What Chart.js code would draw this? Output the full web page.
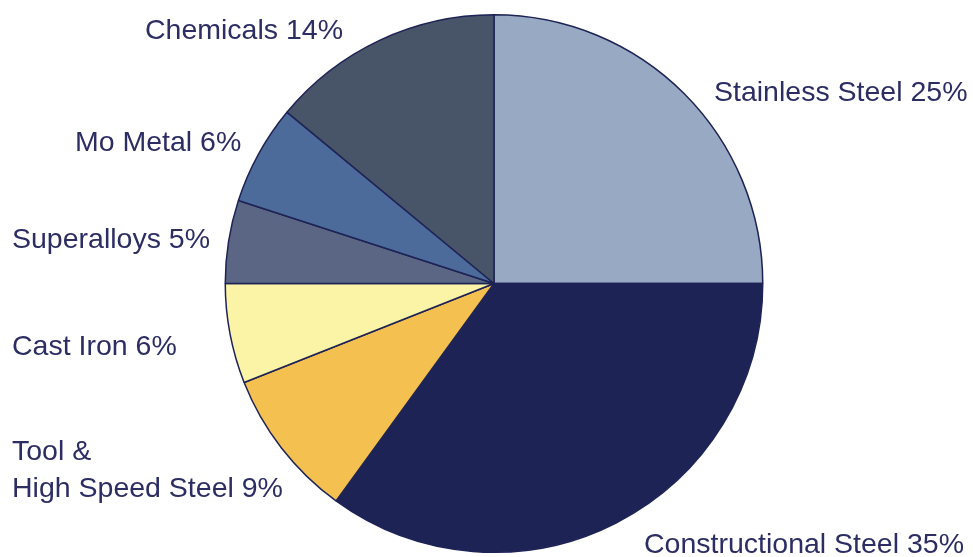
<!DOCTYPE html>
<html>
<head>
<meta charset="utf-8">
<title>Molybdenum end uses</title>
<script src="https://cdn.jsdelivr.net/npm/chart.js@4.4.1/dist/chart.umd.min.js"></script>
<style>
  html, body { margin: 0; padding: 0; background: #ffffff; }
  #wrap { width: 973px; height: 557px; position: relative; }
</style>
</head>
<body>
<div id="wrap"><canvas id="myChart" width="973" height="557"></canvas></div>
<script>
// Shares of each end use, clockwise from twelve o'clock
const categories = ['Stainless Steel', 'Constructional Steel', 'Tool &\nHigh Speed Steel', 'Cast Iron', 'Superalloys', 'Mo Metal', 'Chemicals'];
const shares = [25, 35, 9, 6, 5, 6, 14];
const sliceColors = ['#98a9c3', '#1e2356', '#f4c04f', '#fbf3a5', '#5a6684', '#4c6a9a', '#485468'];

// Where each label's first line sits (left x, middle y)
const labelSpots = [
  { x: 714, y: 93 },
  { x: 644, y: 545 },
  { x: 12, y: 452 },
  { x: 12, y: 347 },
  { x: 12, y: 240 },
  { x: 75, y: 143 },
  { x: 145, y: 31 }
];

const textColor = '#2b2d63';

// Draws "Name NN%" beside each slice
const sliceLabels = {
  id: 'sliceLabels',
  afterDraw(chart) {
    const ctx = chart.ctx;
    ctx.save();
    ctx.fillStyle = textColor;
    ctx.font = '28.5px "Liberation Sans", Arial, sans-serif';
    ctx.textBaseline = 'middle';
    ctx.textAlign = 'left';
    categories.forEach((name, i) => {
      const lines = (name + ' ' + shares[i] + '%').split('\n');
      const spot = labelSpots[i];
      lines.forEach((line, j) => {
        ctx.fillText(line, spot.x, spot.y + j * 37);
      });
    });
    ctx.restore();
  }
};

const canvas = document.getElementById('myChart');
const ctx = canvas.getContext('2d');

new Chart(ctx, {
  type: 'pie',
  data: {
    labels: categories,
    datasets: [{
      data: shares,
      backgroundColor: sliceColors,
      borderColor: '#1e2356',
      borderWidth: 1.5
    }]
  },
  options: {
    responsive: false,
    animation: false,
    layout: { padding: { top: 14, bottom: 4, left: 202, right: 187 } },
    plugins: {
      legend: { display: false },
      tooltip: { enabled: false }
    }
  },
  plugins: [sliceLabels]
});
</script>
</body>
</html>
